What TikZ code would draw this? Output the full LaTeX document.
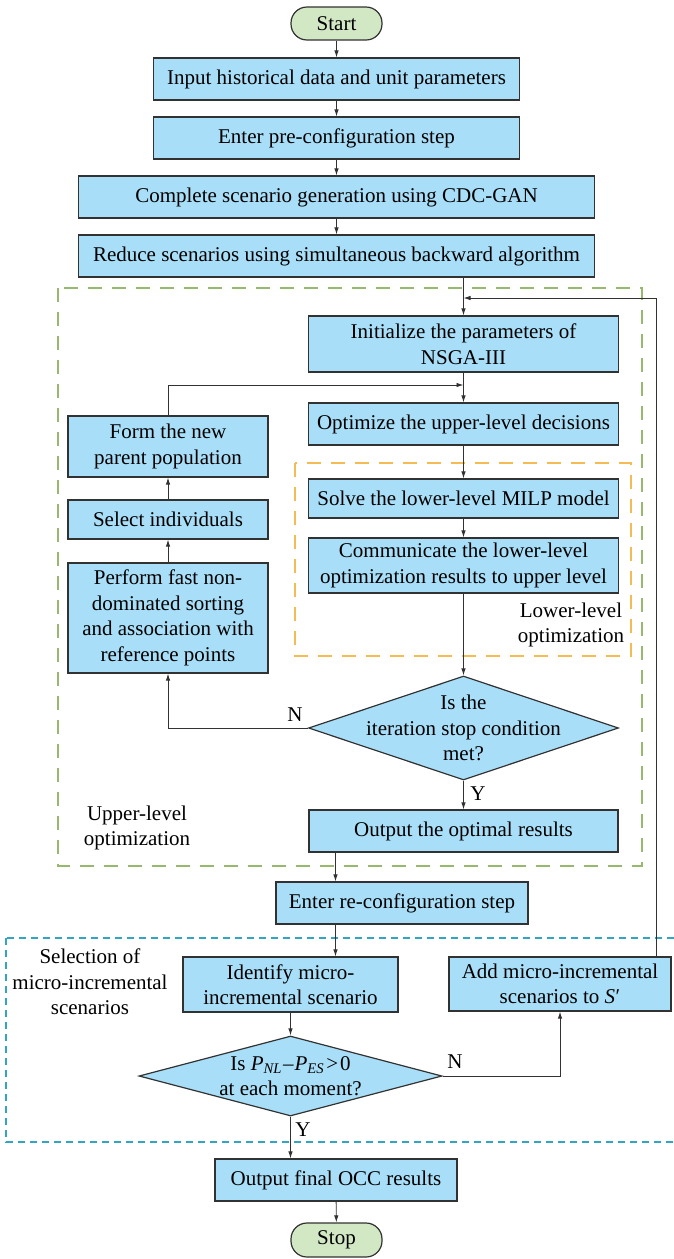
\documentclass[tikz,border=0pt]{standalone}
\usepackage{fontspec}
\setmainfont{Liberation Serif}
\usetikzlibrary{arrows.meta,shapes.geometric,calc}
\definecolor{boxblue}{RGB}{168,222,247}
\definecolor{startgreen}{RGB}{210,232,196}
\definecolor{edgegray}{RGB}{50,50,50}
\definecolor{dashgreen}{RGB}{150,185,110}
\definecolor{dashorange}{RGB}{245,188,85}
\definecolor{dashblue}{RGB}{50,165,195}
\tikzset{
  box/.style={draw=edgegray, fill=boxblue, line width=1.2pt, align=center, inner sep=2pt},
  term/.style={draw=edgegray, fill=startgreen, line width=1.2pt, rounded corners=16pt, inner sep=2pt, minimum width=91pt},
  dia/.style={draw=edgegray, fill=boxblue, line width=1.2pt, diamond, inner sep=0pt},
  arr/.style={draw=edgegray, line width=0.9pt, -{Latex[length=7pt,width=4.5pt]}},
  lbl/.style={align=center, inner sep=0pt},
  grp/.style={line width=1.3pt, dash pattern=on 14pt off 10pt},
  grpfine/.style={line width=1.2pt, dash pattern=on 7pt off 5pt},
}
\begin{document}
\begin{tikzpicture}[x=1pt,y=-1pt,font=\fontsize{21}{25.5}\selectfont]
\useasboundingbox (0,0) rectangle (674,1259);

% group frames
\draw[grp, draw=dashgreen] (58,288) rectangle (642,866);
\draw[grp, draw=dashorange] (295,463) rectangle (631,656);
\draw[grpfine, draw=dashblue] (6,938) rectangle (700,1142);

% nodes
\node[term, minimum height=33pt] (start) at (336.5,23.5) {Start};
\node[box, minimum width=366pt, minimum height=42pt] (b1) at (336.5,79) {Input historical data and unit parameters};
\node[box, minimum width=366pt, minimum height=42pt] (b2) at (336.5,138) {Enter pre-configuration step};
\node[box, minimum width=516pt, minimum height=42pt] (b3) at (336.5,197) {Complete scenario generation using CDC-GAN};
\node[box, minimum width=516pt, minimum height=42pt] (b4) at (336.5,256) {Reduce scenarios using simultaneous backward algorithm};

\node[box, minimum width=310pt, minimum height=56pt] (init) at (463.5,344) {Initialize the parameters of\\NSGA-III};
\node[box, minimum width=310pt, minimum height=42pt] (opt) at (463.5,424) {Optimize the upper-level decisions};
\node[box, minimum width=310pt, minimum height=39pt] (solve) at (463.5,498.5) {Solve the lower-level MILP model};
\node[box, minimum width=310pt, minimum height=55pt] (comm) at (463.5,565.5) {Communicate the lower-level\\optimization results to upper level};

\node[box, minimum width=200pt, minimum height=61pt] (form) at (168,446.5) {Form the new\\parent population};
\node[box, minimum width=200pt, minimum height=39pt] (sel) at (168,519.5) {Select individuals};
\node[box, minimum width=200pt, minimum height=110pt] (perf) at (168,618) {Perform fast non-\\dominated sorting\\and association with\\reference points};

\node[dia, minimum width=310pt, minimum height=104pt] (d1) at (463.5,728) {};
\node[lbl] at (d1.center) {Is the\\iteration stop condition\\met?};

\node[box, minimum width=309pt, minimum height=42pt] (outopt) at (463.5,831) {Output the optimal results};
\node[box, minimum width=252pt, minimum height=42pt] (reconf) at (402,903) {Enter re-configuration step};

\node[box, minimum width=215pt, minimum height=55pt] (ident) at (290.5,984.5) {Identify micro-\\incremental scenario};
\node[box, minimum width=222pt, minimum height=54pt] (add) at (560,984) {Add micro-incremental\\scenarios to \textit{S}\kern0.5pt′};

\node[dia, minimum width=303pt, minimum height=80pt] (d2) at (290.5,1076) {};
\node[lbl] at (d2.center) {Is \textit{P}\textsubscript{\textit{NL}}\kern1pt–\kern1pt\textit{P}\textsubscript{\textit{ES}}\kern2pt>\kern2pt0\\at each moment?};

\node[box, minimum width=242pt, minimum height=42pt] (final) at (336,1180) {Output final OCC results};
\node[term, minimum height=34pt] (stop) at (336.5,1240) {Stop};

% group labels
\node[lbl] (lowlbl) at (571,625) {Lower-level\\optimization};
\node[lbl] (uplbl) at (137,828) {Upper-level\\optimization};
\node[lbl] (sellbl) at (90,982) {Selection of\\micro-incremental\\scenarios};

% helper coordinates
\coordinate (fb) at (656,298);
\coordinate (j1) at (463.5,385);
\coordinate (mid) at (335.5,0);

% connectors
\draw[arr] (start) -- (b1);
\draw[arr] (b1) -- (b2);
\draw[arr] (b2) -- (b3);
\draw[arr] (b3) -- (b4);
\draw[arr] (b4.south -| init.north) -- (init.north);
\draw[arr] (add.north -| fb) |- (fb -| init.north);
\draw[arr] (init) -- (opt);
\draw[arr] (form.north) |- (j1);
\draw[arr] (opt) -- (solve);
\draw[arr] (solve) -- (comm);
\draw[arr] (comm) -- (d1.north);
\draw[arr] (d1.west) -| (perf.south);
\node[lbl] (nlbl1) at (295,715) {N};
\draw[arr] (perf) -- (sel);
\draw[arr] (sel) -- (form);
\draw[arr] (d1.south) -- (outopt.north);
\node[lbl] (ylbl1) at (478,794) {Y};
\draw[arr] (outopt.south -| mid) -- (reconf.north -| mid);
\draw[arr] (reconf.south -| mid) -- (ident.north -| mid);
\draw[arr] (ident.south) -- (d2.north);
\draw[arr] (d2.east) -| (add.south);
\node[lbl] (nlbl2) at (455,1062) {N};
\draw[arr] (d2.south) -- (d2.south |- final.north);
\node[lbl] (ylbl2) at (303,1130) {Y};
\draw[arr] (final) -- (stop);
\end{tikzpicture}
\end{document}
